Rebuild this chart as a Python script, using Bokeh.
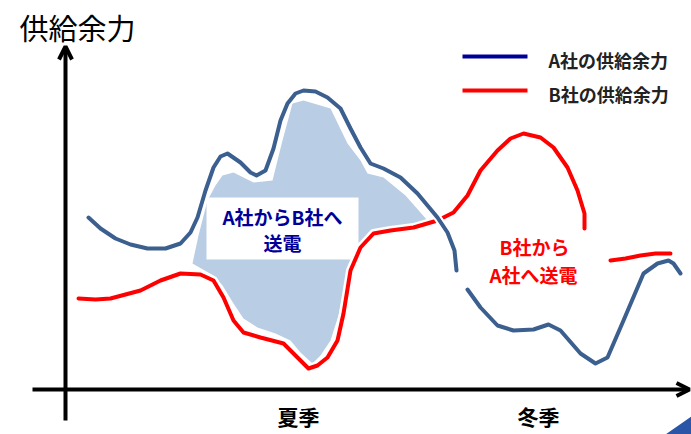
from bokeh.plotting import figure
from bokeh.models import Range1d, Arrow, OpenHead
from bokeh.core.properties import value
from bokeh.embed import file_html
from bokeh.resources import INLINE

# ---- data (x: time of year, y: supply margin) ----
a1_x = [23, 35, 50, 65, 82, 100, 115, 125, 132, 140, 148, 155, 162, 175, 185, 191, 200, 208, 215, 222, 230, 238, 250, 262, 275, 285, 295, 305, 318, 335, 352, 372, 382, 389, 391]
a1_y = [172, 161, 151, 145, 141, 141, 146, 157, 172, 199, 222, 233, 236, 227, 217, 214, 219, 241, 269, 286, 296, 299, 298, 292, 281, 261, 242, 226, 221, 212, 196, 172, 157, 139, 119]
a2_x = [402, 415, 432, 448, 468, 483, 495, 515, 530, 542, 558, 578, 592, 603, 608, 615]
a2_y = [100, 82, 64, 59, 60, 65, 59, 36, 26, 32, 69, 116, 126, 129, 126, 116]

b1_x = [13, 30, 45, 75, 95, 115, 135, 148, 158, 168, 178, 195, 218, 232, 243, 252, 262, 272, 278, 285, 295, 308, 325, 348, 372, 388, 402, 415, 432, 445, 458, 475, 488, 502, 512, 519, 519]
b1_y = [91, 90, 91, 99, 109, 116, 115, 109, 92, 69, 57, 52, 46, 32, 21, 24, 32, 49, 76, 119, 142, 156, 159, 162, 169, 177, 194, 219, 239, 251, 256, 252, 242, 222, 199, 176, 161]
b2_x = [545, 560, 575, 590, 605]
b2_y = [129, 131, 134, 136, 136]

transfer_x = [157, 168, 188, 207, 217, 227, 238, 265, 282, 295, 302, 318, 340, 362, 348, 315, 302, 292, 285, 278, 273, 265, 255, 247, 235, 225, 210, 192, 178, 168, 157, 148, 127, 133, 142, 150]
transfer_y = [214, 217, 207, 209, 249, 286, 289, 281, 246, 229, 216, 212, 194, 169, 163, 159, 151, 136, 121, 99, 74, 49, 34, 26, 37, 49, 56, 62, 71, 86, 104, 114, 126, 154, 189, 204]

legend_labels = ["A社の供給余力", "B社の供給余力"]
season_labels = ["夏季", "冬季"]
season_x = [233, 473]

BLUE = "#3b5f8e"
RED = "#ff0000"
NAVY = "#000099"
JP = value("Noto Sans CJK JP")

p = figure(width=691, height=434, x_range=Range1d(-65, 626), y_range=Range1d(-45, 389),
           output_backend="svg", toolbar_location=None, min_border=0,
           min_border_left=0, min_border_right=0, min_border_top=0, min_border_bottom=0)
p.axis.visible = False
p.grid.visible = False
p.outline_line_color = None
p.background_fill_color = "white"

# transfer area
p.patch(transfer_x, transfer_y, fill_color="#b9cde5", line_color=None)
p.quad(left=141, right=293, top=192, bottom=130, fill_color="white", line_color=None)

# white halos then curves
for xs, ys in [(b1_x, b1_y), (b2_x, b2_y)]:
    p.line(xs, ys, line_color="white", line_width=9, line_join="round", line_cap="round")
for xs, ys in [(b1_x, b1_y), (b2_x, b2_y)]:
    p.line(xs, ys, line_color=RED, line_width=4, line_join="round", line_cap="round")
for xs, ys in [(a1_x, a1_y), (a2_x, a2_y)]:
    p.line(xs, ys, line_color="white", line_width=8, line_join="round", line_cap="round")
for xs, ys in [(a1_x, a1_y), (a2_x, a2_y)]:
    p.line(xs, ys, line_color=BLUE, line_width=4, line_join="round", line_cap="round")

# axes with arrows
p.add_layout(Arrow(end=OpenHead(size=13, line_width=4, line_color="black"),
                   x_start=0, y_start=-31, x_end=0, y_end=343,
                   line_width=4, line_color="black"))
p.add_layout(Arrow(end=OpenHead(size=13, line_width=4, line_color="black"),
                   x_start=-33, y_start=0, x_end=624, y_end=0,
                   line_width=4, line_color="black"))

# corner fragment
p.patch([600, 626, 626], [-45, -27, -45], fill_color="#2b55a6", line_color=None)

# title
p.text(x=[-46], y=[363], text=["供給余力"], text_font=JP, text_font_size="29px",
       text_align="left", text_baseline="middle", text_color="black")

# legend
p.line([397, 462], [333, 333], line_color=NAVY, line_width=4)
p.line([397, 462], [299, 299], line_color=RED, line_width=4)
p.text(x=[483, 483], y=[330, 296], text=legend_labels, text_font=JP, text_font_size="18px",
       text_font_style="bold", text_align="left", text_baseline="middle", text_color="#222222")

# annotations
p.text(x=[217, 217], y=[173, 147], text=["A社からB社へ", "送電"], text_font=JP,
       text_font_size="19px", text_font_style="bold", text_align="center",
       text_baseline="middle", text_color=NAVY)
p.text(x=[469, 468], y=[143, 115], text=["B社から", "A社へ送電"], text_font=JP,
       text_font_size="19px", text_font_style="bold", text_align="center",
       text_baseline="middle", text_color=RED)

# season labels
p.text(x=season_x, y=[-26, -26], text=season_labels, text_font=JP, text_font_size="21px",
       text_font_style="bold", text_align="center", text_baseline="middle", text_color="black")

open("out.html", "w").write(file_html(p, INLINE))
